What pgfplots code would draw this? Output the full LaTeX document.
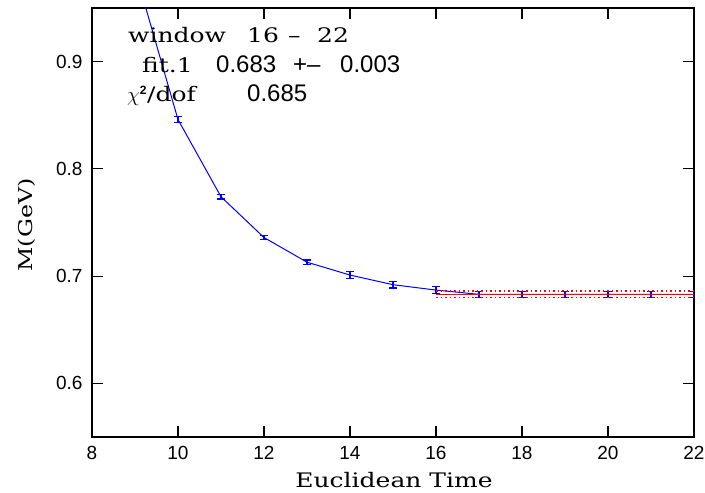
\documentclass[border=0pt]{standalone}
\usepackage{pgfplots}
\pgfplotsset{compat=1.18}
\usepackage{fontspec}
\setmainfont{DejaVu Serif}[FakeStretch=1.25]
\newfontfamily\tickfont{Liberation Sans}[Ligatures=TeX]
\begin{document}
\begin{tikzpicture}[x=1pt,y=1pt]
\begin{axis}[
  at={(0pt,0pt)}, anchor=south west,
  scale only axis, width=602pt, height=429pt,
  xmin=8, xmax=22, ymin=0.55, ymax=0.95,
  xtick={8,10,...,22}, ytick={0.6,0.7,0.8,0.9},
  yticklabel style={/pgf/number format/fixed,/pgf/number format/precision=1},
  tick align=inside, major tick length=11pt,
  tick style={black, line width=1.2pt},
  axis line style={line width=1.4pt},
  ticklabel style={font=\tickfont\fontsize{19}{19}\selectfont},
  /pgf/number format/assume math mode=true,
  xticklabel style={yshift=-6pt},
  yticklabel style={xshift=-6pt},
  clip=true,
]
\addplot[blue, line width=1pt, mark=none,
  error bars/.cd, y dir=both, y explicit,
  error mark options={rotate=90, mark size=4pt, line width=1.2pt, blue},
  error bar style={line width=1.2pt, blue}]
  table[x=x, y=y, y error=e] {
x y e
9 0.985 0.004
10 0.846 0.003
11 0.774 0.002
12 0.736 0.002
13 0.713 0.002
14 0.701 0.003
15 0.692 0.003
16 0.687 0.003
17 0.683 0.003
18 0.683 0.003
19 0.683 0.003
20 0.683 0.003
21 0.683 0.003
22 0.683 0.003
};
\addplot[red, line width=1.2pt] coordinates {(16,0.683) (22,0.683)};
\addplot[red, line width=1.4pt, dash pattern=on 1.5pt off 3pt] coordinates {(16,0.686) (22,0.686)};
\addplot[red, line width=1.4pt, dash pattern=on 1.5pt off 3pt] coordinates {(16,0.680) (22,0.680)};
\end{axis}
\begin{scope}[every node/.style={anchor=base west, inner sep=0pt, font=\fontsize{20}{20}\selectfont}]
\node at (36pt,394pt) {window};
\node at (155pt,394pt) {16};
\node at (196pt,394pt) {--};
\node at (225pt,394pt) {22};
\node at (50pt,364pt) {fit.1};
\node[font=\tickfont\fontsize{24}{24}\selectfont] at (124pt,364pt) {0.683};
\node[font=\tickfont\fontsize{24}{24}\selectfont] at (201pt,364pt) {+--};
\node[font=\tickfont\fontsize{24}{24}\selectfont] at (248pt,364pt) {0.003};
\node at (35pt,335pt) {$\chi^{\mbox{\tickfont\bfseries\fontsize{12}{12}\selectfont 2}}$/dof};
\node[font=\tickfont\fontsize{24}{24}\selectfont] at (155pt,335pt) {0.685};
\end{scope}
\node[font=\fontsize{20}{20}\selectfont, anchor=base] at (302pt,-51pt) {Euclidean Time};
\node[font=\fontsize{19}{19}\selectfont, rotate=90, anchor=base] at (-59pt,212pt) {M(GeV)};
\pgfresetboundingbox
\useasboundingbox (-92pt,-56pt) rectangle (613pt,437pt);
\end{tikzpicture}
\end{document}
